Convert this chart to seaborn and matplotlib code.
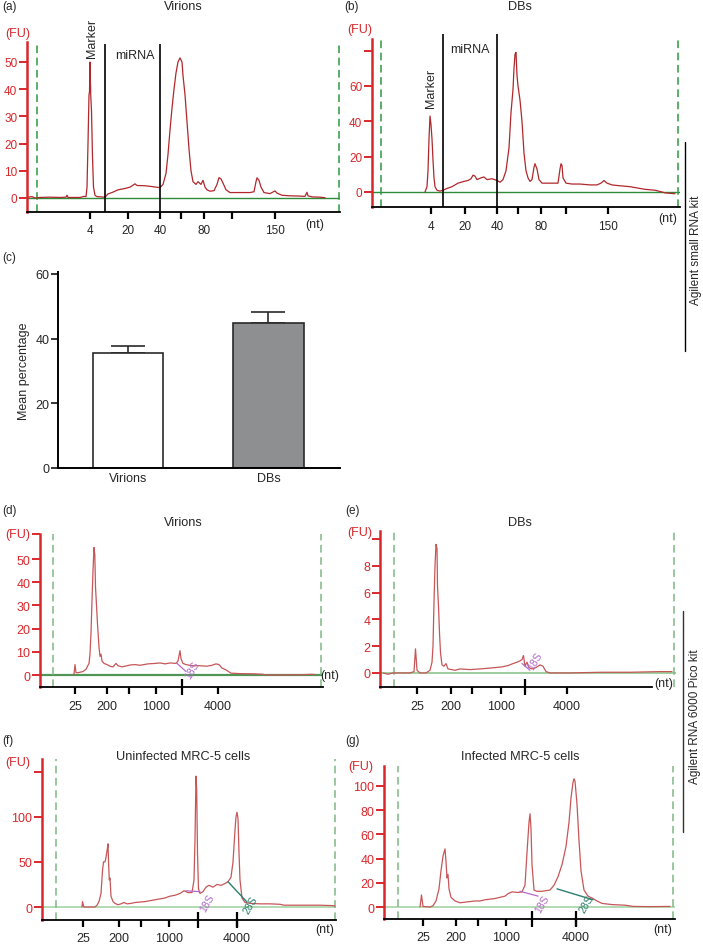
import matplotlib
matplotlib.use("Agg")
import matplotlib.pyplot as plt
import seaborn as sns
import pandas as pd
from matplotlib.lines import Line2D

sns.set_style("white")
plt.rcParams['font.family'] = ['Liberation Sans', 'DejaVu Sans']

# ---------------- data ----------------
# migration position (arbitrary units along the run) and fluorescence (FU)
a_t = [1, 5, 8, 13, 23, 33, 39, 40, 41, 53, 57, 59, 60, 61, 62, 62.5, 63, 63.7, 64.5, 65.5, 66.5, 68, 70, 78,
       81, 85, 91, 98, 103, 108, 110, 118, 125, 133, 136, 139, 141, 143, 145, 147, 149, 151, 153, 155, 156, 158,
       160, 162, 164, 166, 169, 171, 174, 176, 178, 180, 183, 187, 190, 192, 194, 196, 199, 203, 213, 223, 227,
       229, 230, 232, 234, 237, 243, 246, 248, 250, 255, 263, 273, 278, 280, 281, 285, 293, 298]
a_fu = [0.3, 0.5, 0, 0.2, 0.3, 0.2, 0.3, 1.0, 0.2, 0.2, 0.6, 0.5, 4, 20, 38, 39, 50, 38, 32, 15, 4, 1, 0.5, 0.3,
        1.5, 2, 3, 3.5, 4, 5.2, 4.6, 4.5, 4.2, 3.8, 5, 9, 16, 25, 33, 40, 46, 50, 51.5, 50, 45, 38,
        28, 18, 10, 6, 5, 6, 5, 6.5, 4, 3, 2.5, 2.7, 5, 7.5, 7, 5.5, 3, 2, 2, 2, 2.3,
        6, 7.4, 6.5, 4, 2, 1.6, 2.2, 2.6, 1.8, 1, 0.8, 0.7, 0.6, 2.1, 0.8, 0.4, 0.3, 0.1]

b_t = [53, 55, 56, 57, 58, 59, 60, 61, 62, 63, 65, 68, 71, 75, 80, 86, 92, 96, 99, 101, 103, 105, 109, 112, 115,
       120, 125, 128, 131, 134, 137, 139, 141, 142, 143, 144, 145, 146, 148, 150, 152, 154, 156, 158, 160, 162,
       163, 165, 167, 170, 174, 180, 186, 188, 189, 190, 191, 194, 200, 208, 218, 225, 229, 232, 235, 240, 248,
       258, 268, 273, 283, 290, 293, 303]
b_fu = [0, 3, 12, 30, 43, 38, 30, 18, 8, 3, 1, 0.5, 1, 2, 3, 5, 6, 6.5, 7.5, 9.5, 9, 7, 8, 8.5, 7,
        7.5, 6.5, 5.5, 7, 12, 25, 45, 58, 70, 78, 79, 66, 60, 52, 40, 22, 12, 8, 6, 7, 14,
        16, 13, 7, 5, 5, 5, 5, 13, 16, 15, 8, 5, 4.5, 4.5, 4, 4, 5, 6.5, 5, 4, 3.5,
        3, 2, 1.5, 1, 0, -0.5, -1]

c_groups = ['Virions', 'DBs']
c_mean = [35.5, 44.8]
c_err = [2.2, 3.3]

d_t = [33, 34, 35, 36, 38, 43, 46, 49, 50, 51, 52, 53, 54, 54.8, 55.5, 56.5, 57.5, 59, 60, 61, 62, 64, 67, 70,
       73, 76, 78, 82, 87, 90, 95, 100, 108, 115, 120, 125, 130, 136, 138, 140, 141, 143, 146, 152, 160, 167,
       172, 176, 179, 182, 186, 191, 200, 215, 223, 226, 240, 260, 272, 275]
d_fu = [0, 0.5, 4.5, 1, 1, 1.5, 2.5, 5, 9, 18, 32, 45, 55, 52, 38, 30, 22, 12, 8, 9, 6, 5, 4.5, 3.8,
        3.5, 5, 4, 3.5, 4, 4.3, 4.5, 4.2, 4.8, 5, 5.2, 4.8, 5.2, 5, 6, 10.5, 7, 5, 4.5, 4, 4, 3.8,
        4.2, 4.8, 4.5, 3, 2.2, 0.8, 0.6, 0.5, 0.3, 0, 0, 0.1, 0.3, 0.2]

e_t = [3, 8, 13, 20, 30, 34, 35.5, 37, 40, 46, 50, 52, 53, 54, 55, 56, 57, 57.5, 58.5, 59.5, 60.5, 62, 64, 66,
       68, 75, 80, 90, 100, 108, 115, 122, 128, 133, 137, 140, 142, 143.5, 145, 147, 149, 152, 156, 160, 163,
       166, 170, 190, 220, 250, 280, 292]
e_fu = [0, -0.1, 0, 0, 0, 0.1, 1.8, 0.2, 0, 0, 0.2, 0.8, 2, 5.3, 8, 9.6, 9.3, 6.5, 5, 3, 1.5, 0.6, 0.5, 0.7,
        0.3, 0.2, 0.3, 0.25, 0.3, 0.35, 0.4, 0.45, 0.55, 0.7, 0.8, 0.9, 1.0, 1.3, 0.5, 0.8, 0.4, 0.3, 0.4, 0.6, 0.5,
        0.1, 0, 0, 0.05, 0.05, 0.1, 0.1]

f_t = [40, 40.5, 41.5, 42, 53, 55, 57, 59, 60.5, 61.5, 63, 64, 65, 66, 66.7, 67.3, 68, 69, 71, 73, 76, 79, 82,
       85, 89, 93, 98, 103, 108, 113, 118, 123, 128, 133, 138, 142, 146, 150, 152, 153, 154, 154.7, 155.5, 156.5,
       158, 161, 164, 167, 171, 175, 179, 183, 186, 189, 191, 193, 194, 195, 196, 197, 198, 200, 203, 208, 218,
       228, 238, 242, 258, 278, 291, 293]
f_fu = [0, 6, 1, 0, 0, 2, 6, 15, 40, 50, 50, 55, 62, 70, 45, 30, 32, 12, 6, 4, 2.5, 3.5, 5,
        3.5, 4, 5, 5.5, 6, 7, 8, 9, 10, 12, 13, 15, 18, 16, 16, 30, 75, 145, 130, 60, 20,
        15, 17, 22, 24, 22, 25, 24, 26, 28, 33, 50, 85, 100, 105, 98, 60, 30, 10, 5, 4, 3.5,
        3.5, 3, 2, 2, 2, 1.5, 1]

g_t = [36, 37.5, 39, 46, 49, 52, 55, 57, 59, 61, 62, 63, 64, 65, 67, 71, 76, 81, 86, 91, 96, 101, 106, 111,
       116, 121, 124, 128, 134, 138, 141, 143, 145, 146, 147, 148, 150, 153, 158, 162, 166, 170, 174, 178, 182,
       185, 187, 189, 190, 191, 193, 195, 197, 200, 204, 209, 213, 218, 228, 241, 249, 266, 286]
g_fu = [0, 10, 0.5, 0, 1, 5, 15, 30, 42, 48, 38, 24, 27, 15, 8, 5, 3.5, 4, 4.5, 5, 5, 6, 6.5, 7,
        8, 9, 11, 12.5, 12, 12.5, 18, 45, 70, 77, 65, 35, 14, 13, 13, 13.5, 14, 18, 25, 35, 50,
        70, 90, 103, 106, 104, 85, 55, 30, 14, 9, 7, 5, 3, 2, 1.5, 0.5, 0.3, 0.5]

small_ticks = ['4', '20', '40', '', '80', '', '150']
pico_ticks = ['25', '200', '', '1000', '4000']

# ---------------- layout helpers ----------------
W, H = 703, 945
fig = plt.figure(figsize=(W / 100, H / 100), dpi=100)


def rect(x0, y0, x1, y1):
    return [x0 / W, 1 - y1 / H, (x1 - x0) / W, (y1 - y0) / H]


def ftext(px, py, s, **kw):
    kw.setdefault('fontsize', 8.5)
    kw.setdefault('ha', 'center')
    kw.setdefault('va', 'center')
    fig.text(px / W, 1 - py / H, s, **kw)


RED = '#d8282c'
TRACE_A = '#b0282c'
TRACE_D = '#c75658'
PURPLE = '#b46ac8'
TEAL = '#2c7f6e'


def electro(ax, t, fu, xlim, ylim, yticks, ylabels, xticks, xlabels, tall, dashed,
            trace_col, base_col, base_lw, dash_col, fs, spine_end=None):
    sns.lineplot(x=t, y=fu, ax=ax, estimator=None, sort=False, color=trace_col, linewidth=0.9)
    ax.axhline(0, color=base_col, lw=base_lw, zorder=1)
    for xd in dashed:
        ax.axvline(xd, color=dash_col, lw=1.1, ls=(0, (5, 3)), zorder=1)
    ax.set_xlim(*xlim)
    ax.set_ylim(*ylim)
    for s in ['top', 'right']:
        ax.spines[s].set_visible(False)
    ax.spines['left'].set_color(RED)
    ax.spines['left'].set_linewidth(1.8)
    ax.spines['bottom'].set_color('black')
    ax.spines['bottom'].set_linewidth(1.3)
    if spine_end is not None:
        ax.spines['bottom'].set_bounds(xlim[0], spine_end)
    ax.set_yticks(yticks)
    ax.set_yticklabels(ylabels)
    ax.set_xticks(xticks)
    ax.set_xticklabels(xlabels)
    ax.xaxis.remove_overlapping_locs = False
    ax.set_xticks(tall, minor=True)
    ax.tick_params(axis='y', colors=RED, labelcolor=RED, direction='out', length=6, width=1.4,
                   labelsize=fs, pad=1, left=True)
    ax.tick_params(axis='x', which='major', direction='out', length=5, width=1.6, labelsize=fs, pad=4,
                   bottom=True, color='black')
    ax.tick_params(axis='x', which='minor', direction='inout', length=11, width=1.6, bottom=True,
                   color='black')
    ax.set_xlabel('')
    ax.set_ylabel('')
    ax.set_facecolor('none')


# ---------------- (a) ----------------
ax_a = fig.add_axes(rect(27, 43, 340, 213))
electro(ax_a, a_t, a_fu, (0, 313), (-5.15, 57.35), [0, 10, 20, 30, 40, 50],
        ['0', '10', '20', '30', '40', '50'], [63, 101, 133, 154, 177, 205, 248], small_ticks, [],
        [10, 312], TRACE_A, '#2f8a3a', 1.0, '#2e9a40', 8.5)
ax_a.vlines([78, 133], -5.15, 56.6, color='black', lw=1.2)

# ---------------- (b) ----------------
ax_b = fig.add_axes(rect(372, 40, 680, 208))
electro(ax_b, b_t, b_fu, (0, 308), (-8.5, 86.6), [0, 20, 40, 60, 80],
        ['0', '20', '40', '60', ''], [59, 93, 125, 146, 169, 194, 236], small_ticks, [],
        [9, 306], TRACE_A, '#2f8a3a', 1.0, '#2e9a40', 8.5)
ax_b.vlines([71, 125], -8.5, 89.4, color='black', lw=1.2, clip_on=False)

# ---------------- (c) ----------------
ax_c = fig.add_axes(rect(58, 273, 340, 469))
df_c = pd.DataFrame({'group': c_groups, 'mean': c_mean})
sns.barplot(data=df_c, x='group', y='mean', hue='group', palette=['white', '#8d8f92'], legend=False,
            width=0.5, edgecolor='#2a2a2a', linewidth=1.2, ax=ax_c, zorder=2)
ax_c.errorbar([0, 1], c_mean, yerr=[[0, 0], c_err], fmt='none', ecolor='#2a2a2a', elinewidth=1.2,
              capsize=12, capthick=1.2, zorder=1)
ax_c.set_xlim(-0.5, 1.51)
ax_c.set_ylim(0, 60.6)
ax_c.set_yticks([0, 20, 40, 60])
ax_c.set_xlabel('')
ax_c.set_ylabel('Mean percentage', fontsize=9, labelpad=4)
for s in ['top', 'right']:
    ax_c.spines[s].set_visible(False)
for s in ['left', 'bottom']:
    ax_c.spines[s].set_color('black')
    ax_c.spines[s].set_linewidth(1.4)
ax_c.tick_params(axis='y', direction='out', length=5, width=1.3, labelsize=9, pad=1, left=True)
ax_c.tick_params(axis='x', length=0, labelsize=9, pad=3)

# ---------------- (d) ----------------
ax_d = fig.add_axes(rect(40, 535, 323, 688))
electro(ax_d, d_t, d_fu, (0, 283), (-5.17, 60.8), [0, 10, 20, 30, 40, 50, 60.8],
        ['0', '10', '20', '30', '40', '50', ''], [35, 67, 89, 116, 178], pico_ticks, [142],
        [13, 281], TRACE_D, '#4f9656', 1.6, '#7fb883', 9)
ax_d.plot([137, 146], [5, 1.5], color=PURPLE, lw=0.9)
ax_d.text(152, 2.5, '18S', color=PURPLE, fontsize=7.5, rotation=60, ha='center', va='center')

# ---------------- (e) ----------------
ax_e = fig.add_axes(rect(380, 532, 676, 688))
electro(ax_e, e_t, e_fu, (0, 296), (-1.05, 10.6), [0, 2, 4, 6, 8, 10],
        ['0', '2', '4', '6', '8', ''], [37, 71, 92, 121, 187], pico_ticks, [145],
        [14, 294], TRACE_D, '#8cc68c', 1.2, '#7fb883', 9, spine_end=272)
ax_e.plot([142, 150], [0.7, 0.2], color=PURPLE, lw=0.9)
ax_e.text(155, 0.9, '18S', color=PURPLE, fontsize=7.5, rotation=60, ha='center', va='center')

# ---------------- (f) ----------------
ax_f = fig.add_axes(rect(42, 760, 336, 921))
electro(ax_f, f_t, f_fu, (0, 294), (-14.4, 164), [0, 50, 100, 150],
        ['0', '50', '100', ''], [41, 77, 99, 127, 195], pico_ticks, [156, 195],
        [14, 293], TRACE_D, '#a6d6a6', 1.2, '#7fb883', 9)
ax_f.plot([144, 158], [18, 17], color=PURPLE, lw=0.9)
ax_f.text(165, 5, '18S', color=PURPLE, fontsize=7.5, rotation=60, ha='center', va='center')
ax_f.plot([186, 205], [28, 5.5], color=TEAL, lw=1.0)
ax_f.text(208, 3, '28S', color=TEAL, fontsize=7.5, rotation=60, ha='center', va='center')

# ---------------- (g) ----------------
ax_g = fig.add_axes(rect(384, 767, 675, 920))
electro(ax_g, g_t, g_fu, (0, 291), (-9.9, 116.5), [0, 20, 40, 60, 80, 100],
        ['0', '20', '40', '60', '80', '100'], [39, 72, 94, 122, 192], pico_ticks, [148, 192],
        [14, 289], TRACE_D, '#a6d6a6', 1.2, '#7fb883', 9)
ax_g.plot([136, 154], [13, 9], color=PURPLE, lw=0.9)
ax_g.text(158, 3, '18S', color=PURPLE, fontsize=7.5, rotation=60, ha='center', va='center')
ax_g.plot([173, 209], [15, 6], color=TEAL, lw=1.0)
ax_g.text(202, 3, '28S', color=TEAL, fontsize=7.5, rotation=60, ha='center', va='center')

# ---------------- figure texts ----------------
for px, py, s in [(2, 7, '(a)'), (344, 7, '(b)'), (2, 258, '(c)'), (2, 511, '(d)'),
                  (345, 511, '(e)'), (2, 741, '(f)'), (345, 741, '(g)')]:
    ftext(px, py, s, ha='left')

for px, py, s in [(183, 7, 'Virions'), (520, 7, 'DBs'), (183, 523, 'Virions'), (520, 523, 'DBs'),
                  (183, 757, 'Uninfected MRC-5 cells'), (520, 757, 'Infected MRC-5 cells')]:
    ftext(px, py, s, fontsize=9.2)

for px, py in [(18, 34), (360, 30), (18, 535), (360, 533), (18, 763), (361, 767)]:
    ftext(px, py, '(FU)', color=RED, fontsize=9)

for px, py in [(315, 225), (668, 219), (330, 676), (664, 684), (325, 930), (663, 930)]:
    ftext(px, py, '(nt)', fontsize=9)

ftext(92, 38, 'Marker', rotation=90, fontsize=9)
ftext(431, 88, 'Marker', rotation=90, fontsize=9)
ftext(135, 56, 'miRNA', fontsize=9)
ftext(470, 50, 'miRNA', fontsize=9)

ftext(696, 250, 'Agilent small RNA kit', rotation=90)
ftext(695, 717, 'Agilent RNA 6000 Pico kit', rotation=90)
fig.add_artist(Line2D([685 / W, 685 / W], [1 - 143 / H, 1 - 352 / H], color='black', lw=1.0))
fig.add_artist(Line2D([683 / W, 683 / W], [1 - 612 / H, 1 - 833 / H], color='#333333', lw=1.0))

fig.savefig('out.png', dpi=100)
